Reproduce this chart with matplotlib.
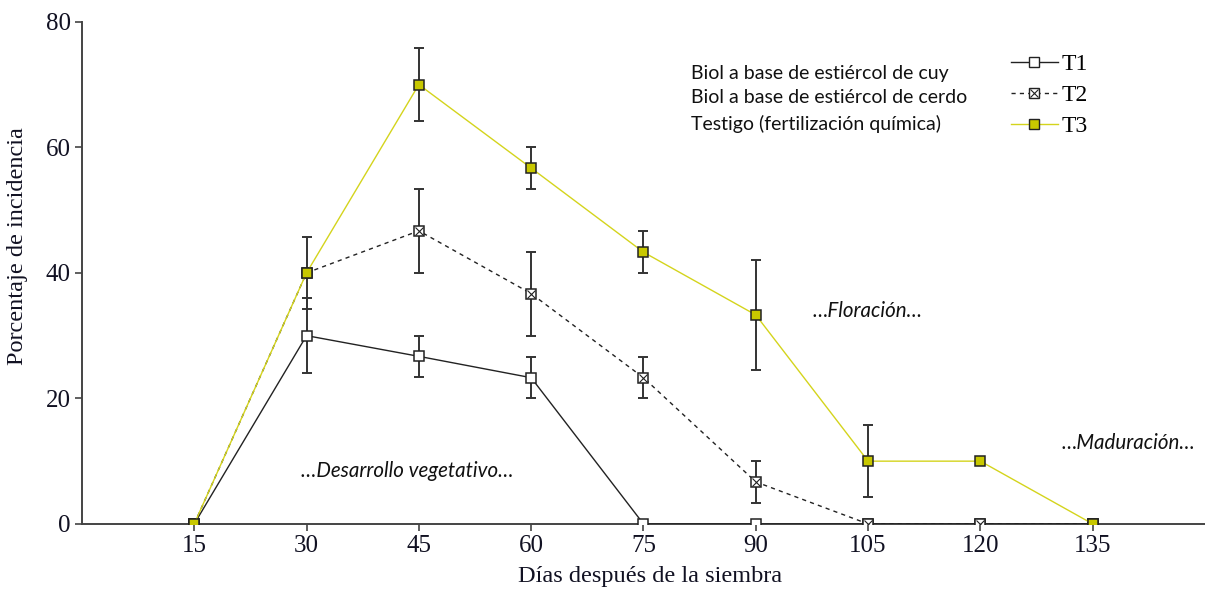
import matplotlib
matplotlib.use("Agg")
import matplotlib.pyplot as plt
from matplotlib.lines import Line2D

days = [15, 30, 45, 60, 75, 90, 105, 120, 135]

t1 = [0, 30, 26.7, 23.3, 0, 0, 0, 0, 0]
t1_err = [0, 6, 3.3, 3.3, 0, 0, 0, 0, 0]

t2 = [0, 40, 46.7, 36.7, 23.3, 6.7, 0, 0, 0]
t2_err = [0, 0, 6.7, 6.7, 3.3, 3.3, 0, 0, 0]

t3 = [0, 40, 70, 56.7, 43.3, 33.3, 10, 10, 0]
t3_err = [0, 5.7, 5.8, 3.3, 3.3, 8.8, 5.7, 0, 0]

series_labels = ["T1", "T2", "T3"]
descriptions = ["Biol a base de estiércol de cuy",
                "Biol a base de estiércol de cerdo",
                "Testigo (fertilización química)"]
xticks = [15, 30, 45, 60, 75, 90, 105, 120, 135]
yticks = [0, 20, 40, 60, 80]

phases = ["…Desarrollo vegetativo…", "…Floración…", "…Maduración…"]
phase_pos = [(43.5, 8.5), (104.9, 34.0), (139.7, 12.9)]

serif = "Liberation Serif"
sans = "Lato"

fig = plt.figure(figsize=(12.05, 5.9), dpi=100)
ax = fig.add_axes([0.068, 0.112, 0.932, 0.851])

axis_col = "#444444"
text_col = "#111122"
yellow_line = "#d4d41c"
yellow_face = "#c8c800"
MS = 7.5


def draw(vals, err, ls, lc, mfc, z, cross=False):
    ax.plot(days, vals, linestyle=ls, color=lc, linewidth=1.0, zorder=z)
    xs = [d for d, e in zip(days, err) if e > 0]
    ys = [v for v, e in zip(vals, err) if e > 0]
    es = [e for e in err if e > 0]
    ax.errorbar(xs, ys, yerr=es, fmt="none", ecolor="#333333", elinewidth=1.4,
                capsize=3.8, capthick=1.4, zorder=z + 0.5)
    ax.plot(days, vals, linestyle="none", marker="s", markersize=MS,
            markerfacecolor=mfc, markeredgecolor="#222222", markeredgewidth=1.1,
            zorder=z + 1)
    if cross:
        ax.plot(days, vals, linestyle="none", marker="x", markersize=MS * 0.7,
                markeredgecolor="#222222", markeredgewidth=0.8, zorder=z + 1.2)


draw(t1, t1_err, "-", "#222222", "white", 3)
draw(t2, t2_err, (0, (3, 3)), "#222222", "white", 5, cross=True)
draw(t3, t3_err, "-", yellow_line, yellow_face, 7)

ax.set_xlim(0, 150)
ax.set_ylim(0, 80)
ax.set_xticks(xticks)
ax.set_yticks(yticks)
ax.set_xticklabels([str(x) for x in xticks], fontfamily=serif, fontsize=18)
ax.set_yticklabels([str(y) for y in yticks], fontfamily=serif, fontsize=18)
ax.tick_params(direction="out", length=5, width=1.2, color=axis_col,
               labelcolor=text_col, pad=3)
for s in ["top", "right"]:
    ax.spines[s].set_visible(False)
for s in ["left", "bottom"]:
    ax.spines[s].set_color(axis_col)
    ax.spines[s].set_linewidth(1.4)

ax.set_xlabel("Días después de la siembra", fontfamily=serif, fontsize=17.5,
              color=text_col)
ax.set_ylabel("Porcentaje de incidencia", fontfamily=serif, fontsize=17.5,
              color=text_col)
ax.xaxis.set_label_coords(0.506, -0.084)
ax.yaxis.set_label_coords(-0.048, 0.554)

for txt, (x, y) in zip(phases, phase_pos):
    ax.text(x, y, txt, fontfamily=sans, fontstyle="italic", fontsize=14.8,
            ha="center", va="center", color="#111111")

handles = [
    Line2D([], [], color="#222222", lw=1.0, marker="s", markersize=MS,
           markerfacecolor="white", markeredgecolor="#222222"),
    (Line2D([], [], color="#222222", lw=1.0, ls=(0, (3, 3)), marker="s",
            markersize=MS, markerfacecolor="white", markeredgecolor="#222222"),
     Line2D([], [], lw=0, marker="x", markersize=MS * 0.7,
            markeredgecolor="#222222", markeredgewidth=0.8)),
    Line2D([], [], color=yellow_line, lw=1.0, marker="s", markersize=MS,
           markerfacecolor=yellow_face, markeredgecolor="#222222"),
]
leg = ax.legend(handles, series_labels, loc="upper left",
                bbox_to_anchor=(0.827, 0.937), frameon=False,
                borderaxespad=0, borderpad=0,
                prop={"family": serif, "size": 17}, handlelength=2.0,
                handletextpad=0.15, labelspacing=0.40)

desc_y = [0.897, 0.850, 0.797]
for txt, y in zip(descriptions, desc_y):
    ax.text(0.542, y, txt, transform=ax.transAxes, fontfamily=sans,
            fontsize=14, ha="left", va="center", color="#111111")

fig.savefig("out.png", dpi=100)
